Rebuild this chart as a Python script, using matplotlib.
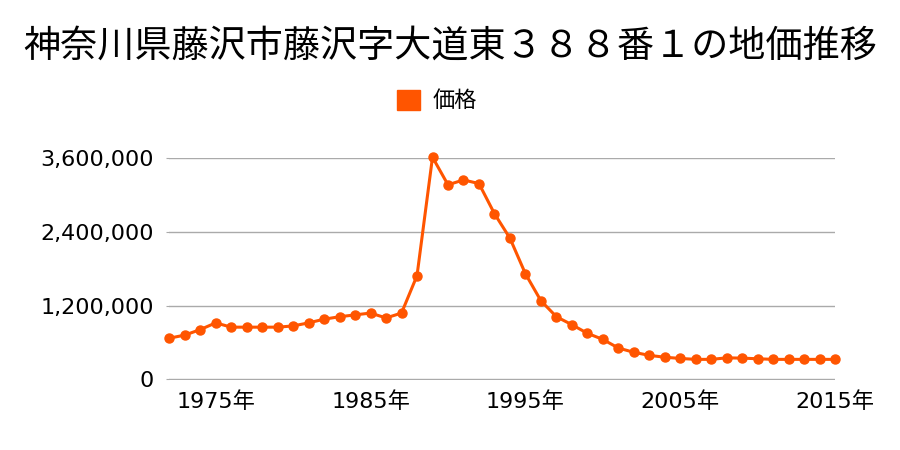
import numpy as np
import matplotlib
matplotlib.use('Agg')
import matplotlib.pyplot as plt
from matplotlib.ticker import FuncFormatter

plt.rcParams['font.family'] = ['Noto Sans CJK JP', 'DejaVu Sans']
num_font = ['DejaVu Sans', 'Noto Sans CJK JP']

title = '神奈川県藤沢市藤沢字大道東３８８番１の地価推移'
series_name = '価格'

years = list(range(1972, 2016))
prices = [670000, 720000, 810000, 920000, 850000, 850000, 850000, 850000, 870000, 920000,
          980000, 1020000, 1050000, 1080000, 1000000, 1080000, 1690000, 3620000, 3170000, 3250000,
          3190000, 2700000, 2300000, 1720000, 1280000, 1020000, 890000, 750000, 650000, 510000,
          440000, 390000, 360000, 340000, 325000, 325000, 350000, 345000, 335000, 325000,
          325000, 325000, 325000, 325000]

y_ticks = [0, 1200000, 2400000, 3600000]
x_ticks = [1975, 1985, 1995, 2005, 2015]
x_tick_labels = ['%d年' % y for y in x_ticks]

color = '#ff5500'

fig = plt.figure(figsize=(9, 4.5), dpi=100)
ax = fig.add_axes([0.188, 0.156, 0.74, 0.493])

ax.plot(years, prices, color=color, lw=2.2, marker='o', markersize=6.5,
        clip_on=False, zorder=3, label=series_name)

ax.set_xlim(1972, 2015)
ax.set_ylim(-8000, 3608000)  # small margin so the 0 and top gridlines are not clipped
ax.set_yticks(y_ticks)
ax.yaxis.set_major_formatter(FuncFormatter(lambda v, p: '{:,}'.format(int(v))))
ax.set_xticks(x_ticks)
ax.set_xticklabels(x_tick_labels)
ax.grid(axis='y', color='#aaaaaa', lw=1)
ax.set_axisbelow(True)
for s in ax.spines.values():
    s.set_visible(False)
ax.tick_params(axis='y', length=2, color='#aaaaaa', pad=9, labelsize=16)
ax.tick_params(axis='x', length=0, pad=8, labelsize=16)
for lab in ax.get_xticklabels() + ax.get_yticklabels():
    lab.set_family(num_font)

fig.text(0.5, 0.897, title, fontsize=26.7, ha='center', va='center')
fig.legend(handles=[plt.Rectangle((0, 0), 1, 1, color=color)], labels=[series_name],
           loc='center', bbox_to_anchor=(0.486, 0.776), frameon=False, fontsize=16,
           handlelength=1.0, handleheight=1.0, handletextpad=0.6)

fig.savefig('out.png', dpi=100)
